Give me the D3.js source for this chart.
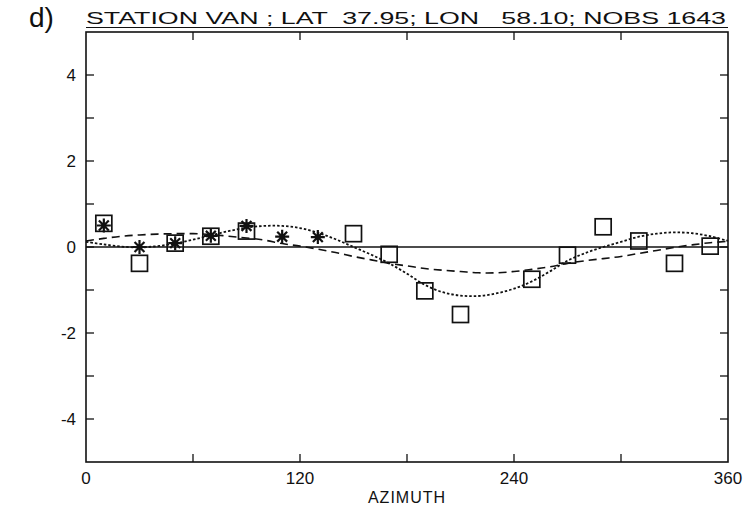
<!DOCTYPE html>
<html>
<head>
<meta charset="utf-8">
<script src="https://cdn.jsdelivr.net/npm/d3@7"></script>
<style>
  body { margin: 0; background: #fff; }
  svg { display: block; }
  text { font-family: "Liberation Sans", "DejaVu Sans", sans-serif; fill: #111; }
</style>
</head>
<body>
<script>
// observed residuals (squares) and star values
let squareAz = [10, 30, 50, 70, 90, 150, 170, 190, 210, 250, 270, 290, 310, 330, 350];
let squareVal = [0.55, -0.38, 0.09, 0.25, 0.37, 0.31, -0.17, -1.02, -1.57, -0.75, -0.19, 0.47, 0.14, -0.38, 0.02];

let starAz = [10, 30, 50, 70, 90, 110, 130];
let starVal = [0.5, 0.0, 0.09, 0.26, 0.49, 0.24, 0.23];

// fitted curves, sampled every 10 degrees
let curveAz = d3.range(0, 361, 10);
let dottedVal = [0.12, 0.06, 0.01, -0.01, 0.02, 0.08, 0.17, 0.27, 0.37, 0.45, 0.49, 0.49, 0.44, 0.33, 0.18,
    0.0, -0.18, -0.38, -0.62, -0.88, -1.05, -1.13, -1.14, -1.08, -0.97, -0.8, -0.57, -0.32, -0.14, 0.0,
    0.12, 0.24, 0.31, 0.34, 0.32, 0.25, 0.14];
let dashedVal = [0.14, 0.2, 0.25, 0.28, 0.3, 0.31, 0.31, 0.29, 0.25, 0.21, 0.16, 0.08, 0.02, -0.05, -0.13,
    -0.22, -0.3, -0.38, -0.44, -0.5, -0.54, -0.57, -0.6, -0.6, -0.57, -0.52, -0.46, -0.38, -0.32, -0.27,
    -0.22, -0.15, -0.08, -0.01, 0.05, 0.1, 0.13];

let xLabels = [0, 120, 240, 360];
let yLabels = [4, 2, 0, -2, -4];

let title = "STATION VAN ; LAT  37.95; LON   58.10; NOBS 1643";

let width = 745, height = 513;
let plotLeft = 86, plotRight = 728, plotTop = 32, plotBottom = 462;

let svg = d3.select("body").append("svg")
    .attr("width", width)
    .attr("height", height);

let x = d3.scaleLinear().domain([0, 360]).range([plotLeft, plotRight]);
let y = d3.scaleLinear().domain([-5, 5]).range([plotBottom, plotTop]);

// frame
svg.append("rect")
    .attr("x", plotLeft).attr("y", plotTop)
    .attr("width", plotRight - plotLeft).attr("height", plotBottom - plotTop)
    .attr("fill", "none").attr("stroke", "#111").attr("stroke-width", 1.6);

// inward ticks
let tickLen = 8;
svg.append("g").selectAll("line")
    .data(d3.range(-4, 5))
    .enter().append("line")
    .attr("x1", plotLeft).attr("x2", plotLeft + tickLen)
    .attr("y1", d => y(d)).attr("y2", d => y(d))
    .attr("stroke", "#111").attr("stroke-width", 1.3);
svg.append("g").selectAll("line")
    .data(d3.range(-4, 5))
    .enter().append("line")
    .attr("x1", plotRight).attr("x2", plotRight - tickLen)
    .attr("y1", d => y(d)).attr("y2", d => y(d))
    .attr("stroke", "#111").attr("stroke-width", 1.3);
svg.append("g").selectAll("line")
    .data(d3.range(60, 360, 60))
    .enter().append("line")
    .attr("x1", d => x(d)).attr("x2", d => x(d))
    .attr("y1", plotBottom).attr("y2", plotBottom - tickLen)
    .attr("stroke", "#111").attr("stroke-width", 1.3);
svg.append("g").selectAll("line")
    .data(d3.range(60, 360, 60))
    .enter().append("line")
    .attr("x1", d => x(d)).attr("x2", d => x(d))
    .attr("y1", plotTop).attr("y2", plotTop + tickLen)
    .attr("stroke", "#111").attr("stroke-width", 1.3);

// tick labels
svg.append("g").selectAll("text")
    .data(yLabels)
    .enter().append("text")
    .attr("x", plotLeft - 10).attr("y", d => y(d) + 6)
    .attr("text-anchor", "end")
    .attr("font-size", 17)
    .text(d => d < 0 ? "-" + Math.abs(d) : d);
svg.append("g").selectAll("text")
    .data(xLabels)
    .enter().append("text")
    .attr("x", d => x(d)).attr("y", 484)
    .attr("text-anchor", "middle")
    .attr("font-size", 17)
    .text(d => d);

svg.append("text")
    .attr("x", (plotLeft + plotRight) / 2).attr("y", 503)
    .attr("text-anchor", "middle")
    .attr("font-size", 16)
    .attr("letter-spacing", 1)
    .text("AZIMUTH");

// title
svg.append("text")
    .attr("x", 29).attr("y", 27)
    .attr("font-size", 28)
    .attr("font-weight", 300)
    .text("d)");
svg.append("text")
    .attr("x", plotLeft).attr("y", 24)
    .attr("font-size", 17)
    .attr("textLength", plotRight - plotLeft - 2)
    .attr("lengthAdjust", "spacingAndGlyphs")
    .style("white-space", "pre")
    .text(title);
svg.append("line")
    .attr("x1", plotLeft).attr("x2", plotRight)
    .attr("y1", 27.5).attr("y2", 27.5)
    .attr("stroke", "#111").attr("stroke-width", 1.1);

// zero line
svg.append("line")
    .attr("x1", plotLeft).attr("x2", plotRight)
    .attr("y1", y(0)).attr("y2", y(0))
    .attr("stroke", "#111").attr("stroke-width", 1.4);

let line = d3.line()
    .x(d => x(d[0]))
    .y(d => y(d[1]))
    .curve(d3.curveCatmullRom);

svg.append("path")
    .datum(curveAz.map((a, i) => [a, dottedVal[i]]))
    .attr("d", line)
    .attr("fill", "none").attr("stroke", "#111")
    .attr("stroke-width", 1.8)
    .attr("stroke-dasharray", "2.5,2");

svg.append("path")
    .datum(curveAz.map((a, i) => [a, dashedVal[i]]))
    .attr("d", line)
    .attr("fill", "none").attr("stroke", "#111")
    .attr("stroke-width", 1.6)
    .attr("stroke-dasharray", "8,5");

// squares
let sq = 16;
svg.append("g").selectAll("rect")
    .data(squareAz.map((a, i) => [a, squareVal[i]]))
    .enter().append("rect")
    .attr("x", d => x(d[0]) - sq / 2)
    .attr("y", d => y(d[1]) - sq / 2)
    .attr("width", sq).attr("height", sq)
    .attr("fill", "none").attr("stroke", "#111").attr("stroke-width", 1.7);

// stars drawn as 8-armed asterisks
let starPath = "";
for (let k = 0; k < 4; k++) {
    let ang = k * Math.PI / 4;
    let dx = 7 * Math.cos(ang), dy = 7 * Math.sin(ang);
    starPath += `M${-dx},${-dy}L${dx},${dy}`;
}
svg.append("g").selectAll("path")
    .data(starAz.map((a, i) => [a, starVal[i]]))
    .enter().append("path")
    .attr("transform", d => `translate(${x(d[0])},${y(d[1])})`)
    .attr("d", starPath)
    .attr("stroke", "#111").attr("stroke-width", 2.2);
</script>
</body>
</html>
